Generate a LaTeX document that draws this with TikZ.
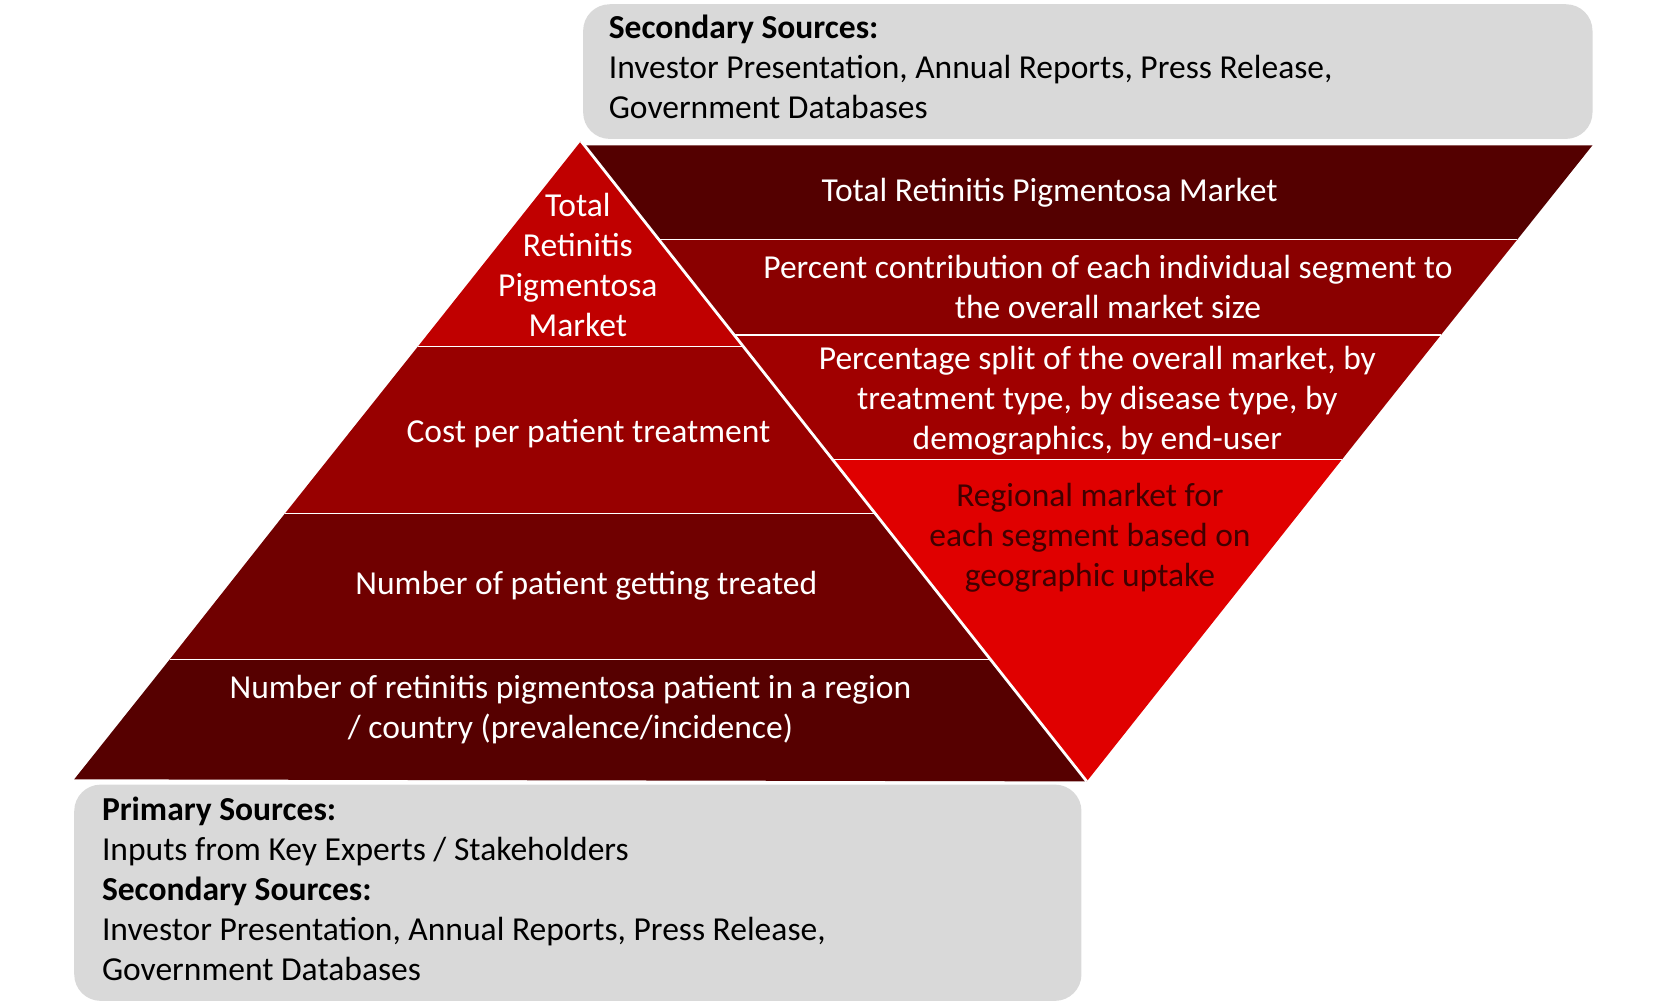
\documentclass[tikz,border=0pt]{standalone}
\usepackage{fontspec}
\setmainfont{Carlito}
\begin{document}
\begin{tikzpicture}[x=0.02cm,y=-0.02cm,
  txt/.style={text=white,align=center,font=\fontsize{18}{21.5}\selectfont},
  btxt/.style={text=black,align=left,anchor=north west,font=\fontsize{18}{21.5}\selectfont},
  gbox/.style={fill=gray!30,rounded corners=0.5cm,draw=none}]
\useasboundingbox (0,0) rectangle (1560,948);
\definecolor{c1}{HTML}{C00000}
\definecolor{c2}{HTML}{980000}
\definecolor{c3}{HTML}{700000}
\definecolor{c4}{HTML}{560000}
\definecolor{r1}{HTML}{540000}
\definecolor{r2}{HTML}{8A0000}
\definecolor{r3}{HTML}{A00000}
\definecolor{r4}{HTML}{E00000}
% gray boxes
\fill[gbox] (550,4) rectangle (1502,131);
\fill[gbox] (70,740) rectangle (1020,944);
% left triangle bands
\fill[c1] (548,133) -- (394,327) -- (701,327) -- cycle;
\fill[c2] (394,327) -- (269,484) -- (825,484) -- (701,327) -- cycle;
\fill[c3] (269,484) -- (160,622) -- (934,622) -- (825,484) -- cycle;
\fill[c4] (160,622) -- (70,735) -- (1025,737) -- (934,622) -- cycle;
% right shape bands
\fill[r1] (551,137) -- (1502,137) -- (1431,226) -- (621,226) -- cycle;
\fill[r2] (621,226) -- (1431,226) -- (1359,316) -- (692,316) -- cycle;
\fill[r3] (692,316) -- (1359,316) -- (1266,433) -- (785,433) -- cycle;
\fill[r4] (785,433) -- (1266,433) -- (1025,737) -- cycle;
% separators
\draw[white,line width=0.6pt] (394,327) -- (701,327) (269,484) -- (825,484) (160,622) -- (934,622);
\draw[white,line width=0.6pt] (621,226) -- (1431,226) (692,316) -- (1359,316) (785,433) -- (1266,433);
\draw[white,line width=1.5pt] (548,133) -- (1025,737);
% texts
\node[btxt] (ts) at (568,8) {\textbf{Secondary Sources:}\\Investor Presentation, Annual Reports, Press Release,\\Government Databases};
\node[btxt] (bs) at (90,745) {\textbf{Primary Sources:}\\Inputs from Key Experts / Stakeholders\\\textbf{Secondary Sources:}\\Investor Presentation, Annual Reports, Press Release,\\Government Databases};
\node[txt] (l1) at (545,250) {Total\\Retinitis\\Pigmentosa\\Market};
\node[txt] (l2) at (555,409) {Cost per patient treatment};
\node[txt] (l3) at (553,552) {Number of patient getting treated};
\node[txt] (l4) at (538,669) {Number of retinitis pigmentosa patient in a region\\/ country (prevalence/incidence)};
\node[txt] (r1t) at (990,182) {Total Retinitis Pigmentosa Market};
\node[txt] (r2t) at (1045,271) {Percent contribution of each individual segment to\\the overall market size};
\node[txt] (r3t) at (1035,378) {Percentage split of the overall market, by\\treatment type, by disease type, by\\demographics, by end-user};
\node[txt,text=black!75!red] (r4t) at (1028,507) {Regional market for\\each segment based on\\geographic uptake};
\end{tikzpicture}
\end{document}
